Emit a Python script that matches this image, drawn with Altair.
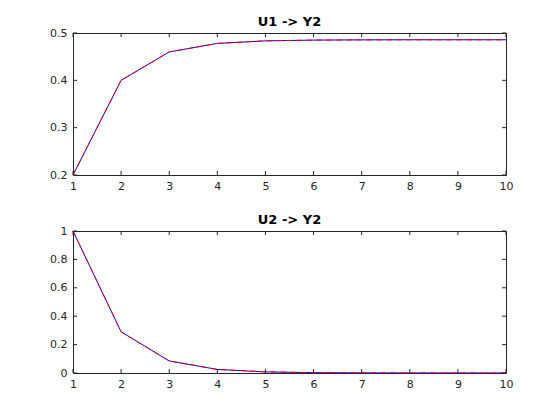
import altair as alt
import pandas as pd

steps = [1, 2, 3, 4, 5, 6, 7, 8, 9, 10]
u1_y2_model = [0.2, 0.4, 0.46, 0.478, 0.4834, 0.485, 0.4855, 0.4857, 0.4857, 0.4857]
u1_y2_est = [0.2, 0.4, 0.46, 0.478, 0.4834, 0.485, 0.4855, 0.4857, 0.4857, 0.4857]
u2_y2_model = [1.0, 0.29, 0.085, 0.025, 0.008, 0.0025, 0.0008, 0.0002, 0.0001, 0.0]
u2_y2_est = [1.0, 0.29, 0.085, 0.025, 0.008, 0.0025, 0.0008, 0.0002, 0.0001, 0.0]

x_ticks = [1, 2, 3, 4, 5, 6, 7, 8, 9, 10]
top_y_ticks = [0.2, 0.3, 0.4, 0.5]
bot_y_ticks = [0, 0.2, 0.4, 0.6, 0.8, 1]

W, H = 433, 142
TL = 4
FONT = "DejaVu Sans"


def panel(title, model, est, ydom, yticks):
    df = pd.DataFrame({"k": steps + steps,
                       "v": model + est,
                       "s": ["model"] * len(steps) + ["est"] * len(steps)})
    xs = alt.Scale(domain=[1, 10], nice=False, zero=False)
    ys = alt.Scale(domain=ydom, nice=False, zero=False)
    xax = alt.Axis(values=x_ticks, title=None, format="d", labelOverlap=False, labelFlush=False)
    yax = alt.Axis(values=yticks, title=None, format="~g", labelOverlap=False, labelFlush=False)
    base = alt.Chart(df)
    blue = base.transform_filter(alt.datum.s == "model").mark_line(
        color="#0000FF", strokeWidth=1).encode(
        x=alt.X("k:Q", scale=xs, axis=xax), y=alt.Y("v:Q", scale=ys, axis=yax))
    red = base.transform_filter(alt.datum.s == "est").mark_line(
        color="#FF0000", strokeWidth=1, strokeDash=[6, 4]).encode(
        x=alt.X("k:Q", scale=xs, axis=xax), y=alt.Y("v:Q", scale=ys, axis=yax))
    xt = alt.Chart(pd.DataFrame({"t": x_ticks}))
    yt = alt.Chart(pd.DataFrame({"t": yticks}))
    tick_style = dict(color="#262626", strokeWidth=1)
    xb = xt.mark_rule(**tick_style).encode(x=alt.X("t:Q", scale=xs, axis=xax), y=alt.value(H), y2=alt.value(H - TL))
    xtp = xt.mark_rule(**tick_style).encode(x=alt.X("t:Q", scale=xs, axis=xax), y=alt.value(0), y2=alt.value(TL))
    yl = yt.mark_rule(**tick_style).encode(y=alt.Y("t:Q", scale=ys, axis=yax), x=alt.value(0), x2=alt.value(TL))
    yr = yt.mark_rule(**tick_style).encode(y=alt.Y("t:Q", scale=ys, axis=yax), x=alt.value(W), x2=alt.value(W - TL))
    return alt.layer(blue, red, xb, xtp, yl, yr).properties(
        width=W, height=H,
        title=alt.TitleParams(title, fontSize=13, fontWeight="bold", font=FONT,
                              color="#000000", offset=-2, anchor="middle"))


top = panel("U1 -> Y2", u1_y2_model, u1_y2_est, [0.2, 0.5], top_y_ticks)
bot = panel("U2 -> Y2", u2_y2_model, u2_y2_est, [0, 1], bot_y_ticks)

chart = alt.vconcat(top, bot, spacing=56, bounds="flush").properties(
    padding={"left": 41, "top": 7, "right": 5, "bottom": 5},
    background="white",
).configure_view(stroke="#262626", strokeWidth=1).configure_axis(
    grid=False, domain=False, ticks=False, labelFont=FONT, labelFontSize=11,
    labelColor="#262626", labelPadding=5,
).configure_axisY(labelPadding=6)

chart.save("out.html", embed_options={"renderer": "svg", "actions": False})
